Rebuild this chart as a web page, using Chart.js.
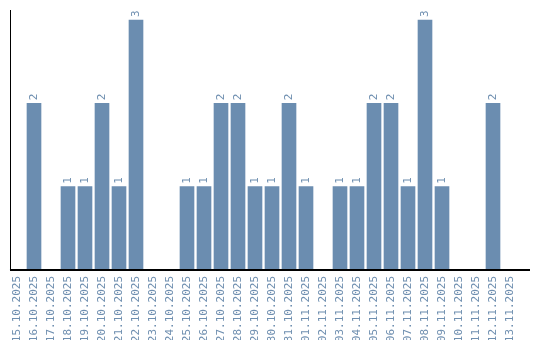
<!DOCTYPE html>
<html><head><meta charset="utf-8">
<script src="https://cdn.jsdelivr.net/npm/chart.js@4/dist/chart.umd.min.js"></script>
<style>html,body{margin:0;padding:0;background:#fff}#wrap{width:540px;height:340px}</style>
</head><body><div id="wrap"><canvas id="c" width="540" height="340"></canvas></div>
<script>
const categories = ["15.10.2025","16.10.2025","17.10.2025","18.10.2025","19.10.2025","20.10.2025","21.10.2025","22.10.2025","23.10.2025","24.10.2025","25.10.2025","26.10.2025","27.10.2025","28.10.2025","29.10.2025","30.10.2025","31.10.2025","01.11.2025","02.11.2025","03.11.2025","04.11.2025","05.11.2025","06.11.2025","07.11.2025","08.11.2025","09.11.2025","10.11.2025","11.11.2025","12.11.2025","13.11.2025"];
const values = [0,2,0,1,1,2,1,3,0,0,1,1,2,2,1,1,2,1,0,1,1,2,2,1,3,1,0,0,2,0];

const barColor = '#6b8db0';
const textColor = '#6f8fb0';
const font = '11px "DejaVu Sans Mono"';

const labelsPlugin = {
  id: 'valueLabels',
  afterDatasetsDraw(chart) {
    const ctx = chart.ctx;
    const meta = chart.getDatasetMeta(0);
    ctx.save();
    ctx.font = font;
    ctx.fillStyle = textColor;
    ctx.textAlign = 'left';
    ctx.textBaseline = 'middle';
    meta.data.forEach((bar, i) => {
      const v = values[i];
      if (!v) return;
      ctx.save();
      ctx.translate(bar.x, bar.y - 3);
      ctx.rotate(-Math.PI / 2);
      ctx.fillText(String(v), 0, 0);
      ctx.restore();
    });
    ctx.restore();
  },
  afterDraw(chart) {
    const ctx = chart.ctx;
    const a = chart.chartArea;
    ctx.save();
    ctx.strokeStyle = '#000';
    ctx.lineWidth = 1;
    ctx.beginPath();
    ctx.moveTo(a.left + 2, a.top);
    ctx.lineTo(a.left + 2, a.bottom);
    ctx.stroke();
    ctx.lineWidth = 2;
    ctx.beginPath();
    ctx.moveTo(a.left + 1.5, a.bottom);
    ctx.lineTo(a.right + 11.5, a.bottom);
    ctx.stroke();
    ctx.restore();
  }
};

new Chart(document.getElementById('c'), {
  type: 'bar',
  data: {
    labels: categories,
    datasets: [{ data: values, backgroundColor: barColor, barThickness: 14 }]
  },
  options: {
    responsive: false,
    animation: false,
    layout: { padding: { left: 8.5, right: 21.5, top: 10, bottom: 0 } },
    plugins: { legend: { display: false }, tooltip: { enabled: false } },
    scales: {
      x: {
        offset: true,
        afterFit(scale) { scale.height = 70; },
        grid: { display: false, drawTicks: false },
        border: { display: false },
        ticks: { minRotation: 90, maxRotation: 90, autoSkip: false, padding: 6, color: textColor, font: { family: 'DejaVu Sans Mono', size: 11 } }
      },
      y: { display: false, min: 0, max: 3.12 }
    }
  },
  plugins: [labelsPlugin]
});
</script></body></html>
